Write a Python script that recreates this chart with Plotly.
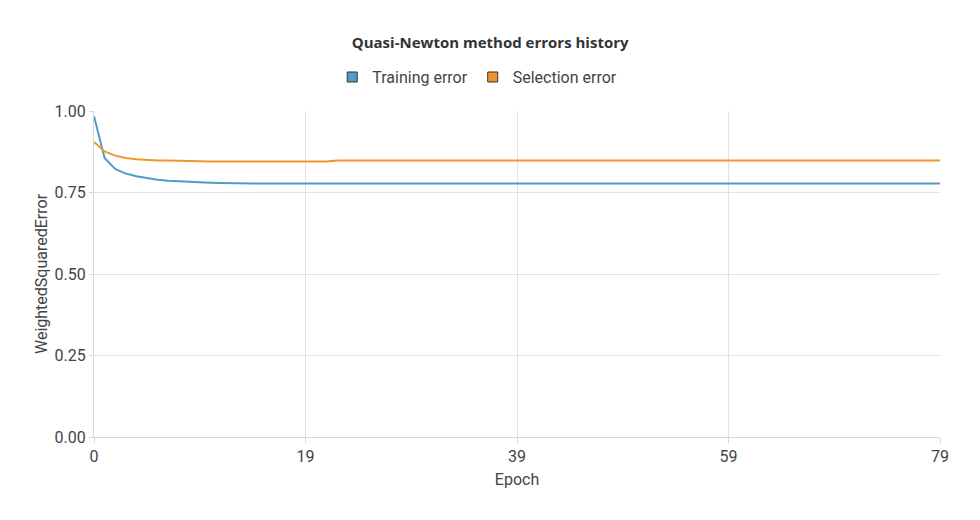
import plotly.graph_objects as go

epochs = list(range(0, 81))

training_error = [0.984, 0.856, 0.822, 0.808, 0.800, 0.794, 0.789, 0.786, 0.784, 0.782,
                  0.781, 0.780, 0.779, 0.778] + [0.7775] * 67
selection_error = [0.905, 0.876, 0.863, 0.856, 0.852, 0.849, 0.848, 0.848, 0.848, 0.847,
                   0.846] + [0.845] * 12 + [0.848] * 58

x_tickvals = [0, 20, 40, 60, 80]
x_ticktext = ["0", "19", "39", "59", "79"]
y_tickvals = [0, 0.25, 0.5, 0.75, 1.0]

blue = "#519cc6"
orange = "#f0962a"
font_family = "Roboto, Noto Sans, sans-serif"

fig = go.Figure()
fig.add_trace(go.Scatter(x=epochs, y=training_error, mode="lines",
                         line=dict(color=blue, width=2), showlegend=False,
                         name="Training error"))
fig.add_trace(go.Scatter(x=epochs, y=selection_error, mode="lines",
                         line=dict(color=orange, width=2), showlegend=False,
                         name="Selection error"))
# legend entries with square markers
fig.add_trace(go.Scatter(x=[None], y=[None], mode="markers", name="Training error",
                         marker=dict(symbol="square", size=10, color=blue,
                                     line=dict(color="#333333", width=1))))
fig.add_trace(go.Scatter(x=[None], y=[None], mode="markers", name="Selection error",
                         marker=dict(symbol="square", size=10, color=orange,
                                     line=dict(color="#333333", width=1))))

fig.update_layout(
    width=980, height=520,
    margin=dict(l=86, r=48, t=103, b=91),
    paper_bgcolor="white", plot_bgcolor="white",
    font=dict(family=font_family, color="#444444", size=16),
    title=dict(text="<b>Quasi-Newton method errors history</b>", x=0.492, xanchor="center",
               y=0.933, yanchor="middle",
               font=dict(size=15, color="#333333", family="Open Sans, sans-serif")),
    legend=dict(orientation="h", x=0.453, xanchor="center", y=1.104, yanchor="middle",
                font=dict(size=16, color="#444444"), itemwidth=30, tracegroupgap=0),
    xaxis=dict(range=[0, 80], tickvals=x_tickvals, ticktext=x_ticktext,
               showgrid=True, gridcolor="#e2e2e2", zeroline=False,
               showline=True, linecolor="#d6d6d6", ticks="outside", ticklen=5,
               tickcolor="#d6d6d6",
               title=dict(text="Epoch", font=dict(size=16, color="#444444"), standoff=8)),
    yaxis=dict(range=[0, 1.0], tickvals=y_tickvals, tickformat=".2f",
               showgrid=True, gridcolor="#e2e2e2", zeroline=False,
               showline=True, linecolor="#d6d6d6", ticks="outside", ticklen=4,
               tickcolor="#d6d6d6",
               title=dict(text="WeightedSquaredError", font=dict(size=16, color="#444444"),
                          standoff=2)),
)

fig.write_html("out.html")
